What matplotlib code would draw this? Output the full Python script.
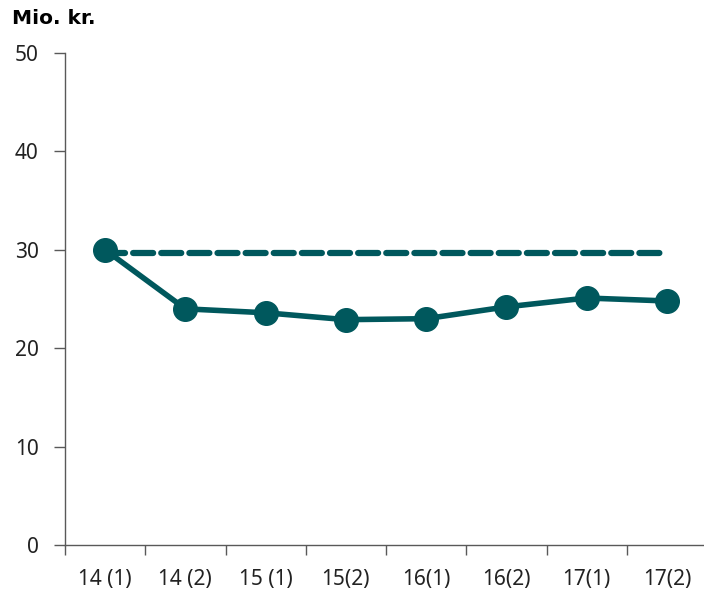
import matplotlib.pyplot as plt

plt.rcParams["font.family"] = ["Noto Sans", "DejaVu Sans"]

periods = ["14 (1)", "14 (2)", "15 (1)", "15(2)", "16(1)", "16(2)", "17(1)", "17(2)"]
actual = [30.0, 24.0, 23.6, 22.9, 23.0, 24.2, 25.1, 24.8]
target = [29.7] * len(periods)

teal = "#00585D"
grey = "#595959"

fig = plt.figure(figsize=(7.04, 5.97), dpi=100)
ax = fig.add_axes([65 / 704, 52 / 597, 642 / 704, 492 / 597])

x = list(range(len(periods)))
ax.plot(x, target, color=teal, lw=4.5, ls=(0, (3.2, 1.3)), dash_capstyle="round")
ax.plot(x, actual, color=teal, lw=4, marker="o", ms=17, solid_joinstyle="round")

ax.set_xlim(-0.5, len(periods) - 0.5)
ax.set_ylim(0, 50)
ax.set_yticks(range(0, 51, 10))
ax.set_xticks([i - 0.5 for i in x])
ax.set_xticklabels([])
ax.set_xticks(x, minor=True)
ax.set_xticklabels(periods, minor=True)
ax.tick_params(axis="x", which="minor", length=0, pad=17, labelsize=15, labelcolor="#222222")
ax.tick_params(axis="x", which="major", length=7, color=grey, width=1)
ax.tick_params(axis="y", length=8, color=grey, width=1, pad=11, labelsize=15, labelcolor="#222222")

for s in ["top", "right"]:
    ax.spines[s].set_visible(False)
for s in ["left", "bottom"]:
    ax.spines[s].set_color(grey)
    ax.spines[s].set_linewidth(1)

fig.text(12 / 704, 1 - 18 / 597, "Mio. kr.", family="DejaVu Sans", fontsize=14.5,
         fontweight="bold", va="center", ha="left")

fig.savefig("out.png", dpi=100)
